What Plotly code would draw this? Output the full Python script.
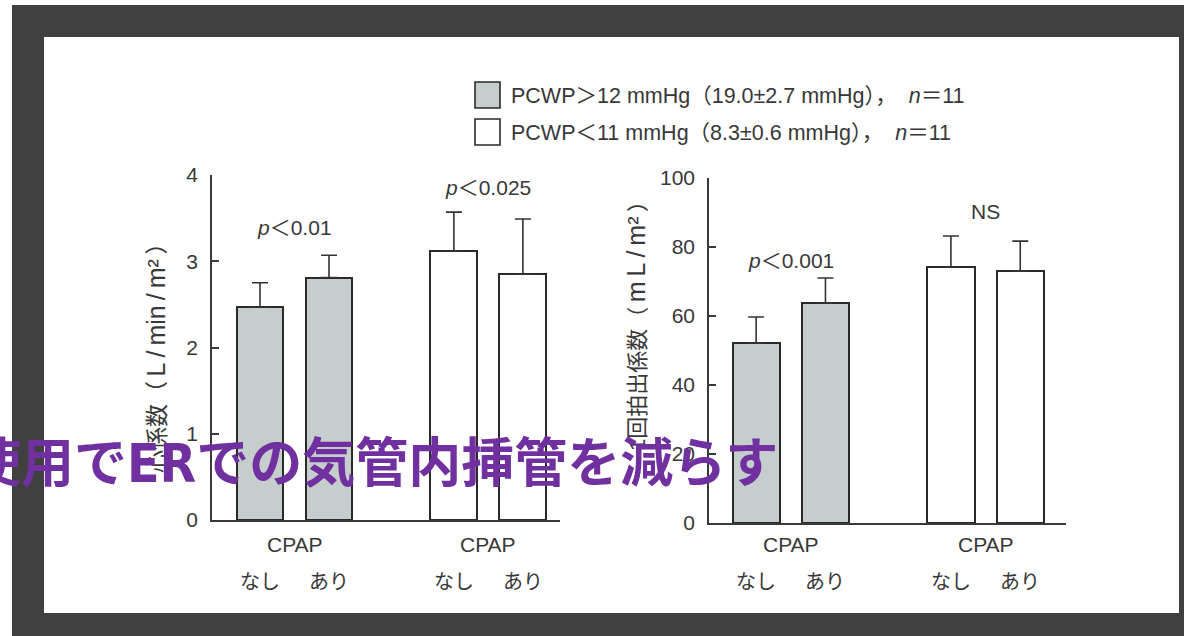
import plotly.graph_objects as go

# ---- data -------------------------------------------------------------
groups = ["PCWP＞12 mmHg（19.0±2.7 mmHg），  <i>n</i>＝11",
          "PCWP＜11 mmHg（8.3±0.6 mmHg），  <i>n</i>＝11"]
conditions = ["なし", "あり"]          # CPAP なし / あり
group_label = "CPAP"

# cardiac index (L/min/m2): mean and SD per group, [なし, あり]
ci_mean = [[2.47, 2.81], [3.12, 2.85]]
ci_sd = [[0.28, 0.26], [0.45, 0.64]]
ci_p = ["<i>p</i>＜0.01", "<i>p</i>＜0.025"]
ci_name, ci_unit = "心係数", ["L", "/", "min", "/", "m²"]

# stroke volume index (mL/m2)
svi_mean = [[52.2, 63.8], [74.2, 73.0]]
svi_sd = [[7.5, 7.2], [9.0, 8.7]]
svi_p = ["<i>p</i>＜0.001", "NS"]
svi_name, svi_unit = "1回拍出係数", ["m", "L", "/", "m²"]

ci_ticks = [0, 1, 2, 3, 4]
svi_ticks = [0, 20, 40, 60, 80, 100]

overlay_parts = ["使用で", "ER", "での気管内挿管を減らす"]

# ---- styling ----------------------------------------------------------
W, H = 1184, 636
FONT = "Liberation Sans, Arial, Noto Sans CJK JP, sans-serif"
CJK = "Noto Sans CJK JP, sans-serif"
NARROW = "DejaVu Sans Condensed, Liberation Sans Narrow, Roboto, sans-serif"
INK = "#383838"
GRAY_FILL = "#c6cdcd"
fills = [GRAY_FILL, "#ffffff"]
GROUP_GAP = 2.81      # distance between the first bars of the two groups
BAR_W = 0.68
THIN = "\u2009"


def px(x):
    return x / W


def py(y):
    return 1 - y / H


def positions(g):
    return [g * GROUP_GAP + i for i in range(len(conditions))]


def note(text, x, y, xref="paper", size=21, family=FONT, color=INK, **kw):
    kw.setdefault("xanchor", "center")
    kw.setdefault("yanchor", "middle")
    fig.add_annotation(xref=xref, yref="paper", x=x, y=py(y), text=text,
                       showarrow=False,
                       font=dict(size=size, family=family, color=color), **kw)


def unit_label(name, unit, latin_px):
    inner = THIN.join(unit)
    return (name + "（" + THIN
            + f"<span style='font-size:{latin_px}px'>" + inner + "</span>"
            + THIN + "）")


fig = go.Figure()

panels = [
    dict(xa="x", ya="y", mean=ci_mean, sd=ci_sd),
    dict(xa="x2", ya="y2", mean=svi_mean, sd=svi_sd),
]
for p in panels:
    for g in range(len(groups)):
        fig.add_trace(go.Bar(
            x=positions(g), y=p["mean"][g], width=BAR_W,
            xaxis=p["xa"], yaxis=p["ya"],
            marker=dict(color=fills[g], line=dict(color="#2a2a2a", width=2)),
            error_y=dict(type="data", symmetric=False, array=p["sd"][g],
                         arrayminus=[0] * len(conditions),
                         color="#333333", thickness=1.6, width=8),
            showlegend=False, hoverinfo="skip",
        ))

axis_common = dict(showgrid=False, zeroline=False, showline=True,
                   linecolor="#3a3a3a", linewidth=1.6)

fig.update_layout(
    width=W, height=H,
    margin=dict(l=0, r=0, t=0, b=0, autoexpand=False),
    paper_bgcolor="#ffffff", plot_bgcolor="rgba(0,0,0,0)",
    bargap=0, showlegend=False,
    font=dict(family=FONT, color=INK, size=20),
    xaxis=dict(domain=[px(212), px(560)], range=[-0.696, 4.348],
               showticklabels=False, ticks="", anchor="y", **axis_common),
    yaxis=dict(domain=[py(520), py(175)], range=[0, 4], tickvals=ci_ticks,
               ticks="inside", ticklen=7, tickwidth=1.6, tickcolor="#3a3a3a",
               ticklabelstandoff=8, tickfont=dict(size=21, color=INK),
               anchor="x", **axis_common),
    xaxis2=dict(domain=[px(709), px(1066)], range=[-0.68, 4.47],
                showticklabels=False, ticks="", anchor="y2", **axis_common),
    yaxis2=dict(domain=[py(523), py(178)], range=[0, 100], tickvals=svi_ticks,
                ticks="inside", ticklen=7, tickwidth=1.6, tickcolor="#3a3a3a",
                ticklabelstandoff=8, tickfont=dict(size=21, color=INK),
                anchor="x2", **axis_common),
)

# dark frame around the white card
fig.add_shape(type="rect", xref="paper", yref="paper", layer="below",
              x0=px(12), x1=1.01, y0=-0.01, y1=py(5),
              fillcolor="#404040", line=dict(width=0))
fig.add_shape(type="rect", xref="paper", yref="paper", layer="below",
              x0=px(44), x1=px(1179), y0=py(613), y1=py(37),
              fillcolor="#ffffff", line=dict(width=0))

# legend swatches and labels
legend_rows = [(82, 108, 96), (119, 145, 133)]
for g, (top, bot, mid) in enumerate(legend_rows):
    fig.add_shape(type="rect", xref="paper", yref="paper",
                  x0=px(475), x1=px(500), y0=py(bot), y1=py(top),
                  fillcolor=fills[g], line=dict(color="#2a2a2a", width=1.6))
    note(groups[g], px(509), mid, size=21.5, xanchor="left")

# category labels under the bars and p-values above each pair
for xa, pv, pv_y in [("x", ci_p, [228, 187]), ("x2", svi_p, [260, 212])]:
    for g in range(len(groups)):
        xs = positions(g)
        centre = sum(xs) / len(xs)
        note(group_label, centre, 544, xref=xa, size=21)
        for xi, lab in zip(xs, conditions):
            note(lab, xi, 580, xref=xa, size=20, family=CJK)
        note(pv[g], centre, pv_y[g], xref=xa, size=21)

# rotated axis titles
note(unit_label(ci_name, ci_unit, 25), px(156), 352, size=23, textangle=-90)
note(unit_label(svi_name, svi_unit, 25), px(636), 321, size=22, textangle=-90)

# caption banner across the lower part of the chart
banner = (overlay_parts[0]
          + f"<span style='font-family:{NARROW}'>" + overlay_parts[1] + "</span>"
          + overlay_parts[2])
note("<b>" + banner + "</b>", px(780), 459, size=53, family=CJK,
     color="#7030a0", xanchor="right")

fig.write_html("out.html")
